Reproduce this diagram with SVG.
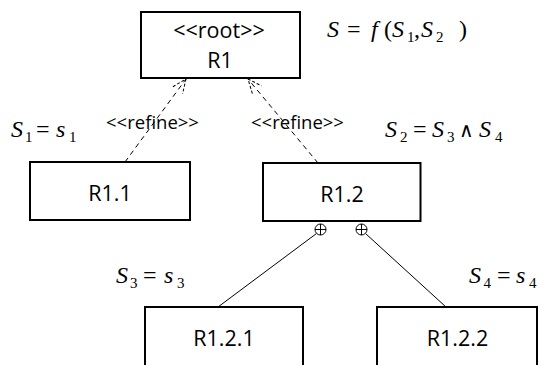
<svg xmlns="http://www.w3.org/2000/svg" width="541" height="365" viewBox="0 0 541 365">
<style>
.box{fill:#fff;stroke:#000;stroke-width:2}
.lbl{font-family:"Open Sans","Liberation Sans",sans-serif;font-size:21.5px;fill:#000;text-anchor:middle}
.st{font-family:"Open Sans","Liberation Sans",sans-serif;font-size:18.5px;fill:#000;text-anchor:middle}
.m{font-family:"Liberation Serif","DejaVu Serif",serif;font-size:24px;fill:#000}
.mi{font-style:italic}
.sub{font-size:15px}
.dash{fill:none;stroke:#000;stroke-width:1;stroke-dasharray:5,4}
.solid{fill:none;stroke:#000;stroke-width:1}
</style>
<defs>
<marker id="open" viewBox="0 0 16 16" refX="15" refY="8" markerWidth="16" markerHeight="16" markerUnits="userSpaceOnUse" orient="auto">
<path d="M1,2 L15,8 L1,14" fill="none" stroke="#000" stroke-width="1" stroke-dasharray="3,2"/>
</marker>
</defs>
<g id="connectors">
<line class="dash" x1="125" y1="162" x2="186" y2="79" marker-end="url(#open)"/>
<line class="dash" x1="318" y1="163" x2="248" y2="79" marker-end="url(#open)"/>
<line class="solid" x1="316.5" y1="233.5" x2="218" y2="307"/>
<line class="solid" x1="365.5" y1="233.5" x2="446" y2="307"/>
<g id="and1"><circle cx="320.5" cy="229.5" r="5.5" fill="#fff" stroke="#000" stroke-width="1"/><path d="M315,229.5 H326 M320.5,224 V235" stroke="#000" stroke-width="1"/></g>
<g id="and2"><circle cx="361.5" cy="229.5" r="5.5" fill="#fff" stroke="#000" stroke-width="1"/><path d="M356,229.5 H367 M361.5,224 V235" stroke="#000" stroke-width="1"/></g>
<text class="st" x="152.5" y="129">&lt;&lt;refine&gt;&gt;</text>
<text class="st" x="297.5" y="129">&lt;&lt;refine&gt;&gt;</text>
</g>
<g id="R1">
<rect class="box" x="141" y="12" width="159" height="66"/>
<text class="lbl" x="219" y="38">&lt;&lt;root&gt;&gt;</text>
<text class="lbl" x="220" y="68">R1</text>
</g>
<g id="R1.1">
<rect class="box" x="30" y="162" width="160" height="58"/>
<text class="lbl" x="110" y="201">R1.1</text>
</g>
<g id="R1.2">
<rect class="box" x="263" y="163" width="157.5" height="58"/>
<text class="lbl" x="342" y="201.5">R1.2</text>
</g>
<g id="R1.2.1">
<rect class="box" x="145" y="307" width="158" height="70"/>
<text class="lbl" x="224" y="346">R1.2.1</text>
</g>
<g id="R1.2.2">
<rect class="box" x="377" y="307" width="160" height="70"/>
<text class="lbl" x="457.5" y="346">R1.2.2</text>
</g>
<g id="formulas">
<text class="m" y="37"><tspan class="mi" x="327">S</tspan><tspan x="347">=</tspan><tspan class="mi" x="371">f</tspan><tspan x="384">(</tspan><tspan class="mi" x="392">S</tspan><tspan class="sub" x="407" dy="5">1</tspan><tspan x="414" dy="-5">,</tspan><tspan class="mi" x="421">S</tspan><tspan class="sub" x="436" dy="5">2</tspan><tspan x="459" dy="-5">)</tspan></text>
<text class="m" y="137"><tspan class="mi" x="11">S</tspan><tspan class="sub" x="25" dy="5">1</tspan><tspan x="36" dy="-5">=</tspan><tspan class="mi" x="56">s</tspan><tspan class="sub" x="69" dy="5">1</tspan></text>
<text class="m" y="137"><tspan class="mi" x="385">S</tspan><tspan class="sub" x="400" dy="5">2</tspan><tspan x="413" dy="-5">=</tspan><tspan class="mi" x="432">S</tspan><tspan class="sub" x="447" dy="5">3</tspan><tspan x="459" dy="-5" font-family="'DejaVu Serif', serif" font-size="20">∧</tspan><tspan class="mi" x="479">S</tspan><tspan class="sub" x="495" dy="5">4</tspan></text>
<text class="m" y="283"><tspan class="mi" x="116">S</tspan><tspan class="sub" x="130" dy="5">3</tspan><tspan x="143" dy="-5">=</tspan><tspan class="mi" x="164">s</tspan><tspan class="sub" x="177" dy="5">3</tspan></text>
<text class="m" y="283"><tspan class="mi" x="469">S</tspan><tspan class="sub" x="483.5" dy="5">4</tspan><tspan x="497" dy="-5">=</tspan><tspan class="mi" x="516">s</tspan><tspan class="sub" x="529" dy="5">4</tspan></text>
</g>
</svg>
